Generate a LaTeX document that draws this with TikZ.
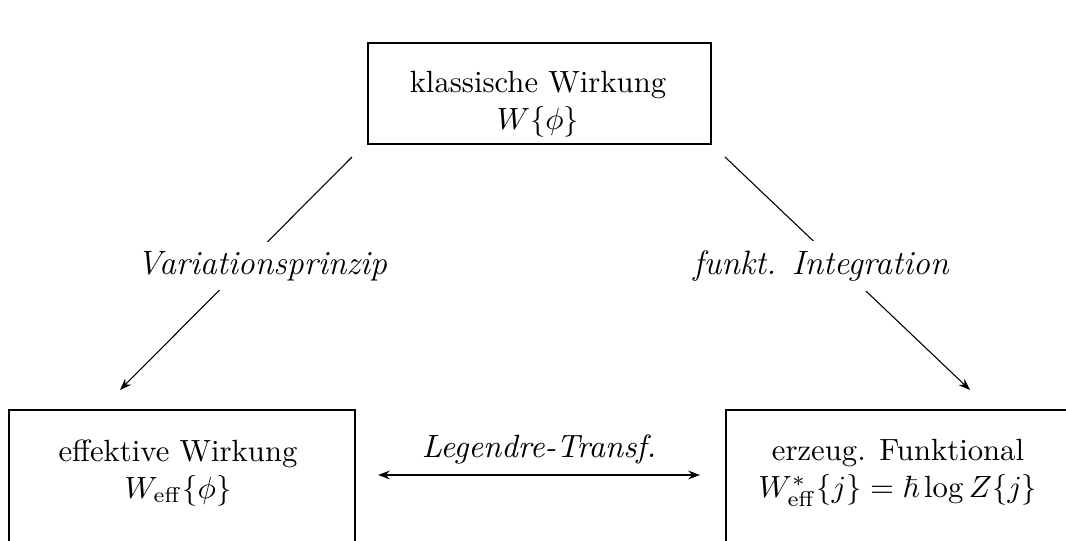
\documentclass[tikz,border=0pt]{standalone}
\usepackage{amsmath}
\usepackage{amssymb}
\usetikzlibrary{arrows.meta}
\newcommand{\pxl}{0.3257pt}

\begin{document}
\begin{tikzpicture}[x=\pxl,y=-\pxl]
\tikzstyle{rahmen}=[draw,rectangle,line width=0.65pt,anchor=north west,inner sep=0pt]
\tikzstyle{inhalt}=[align=center,font=\fontsize{10}{12}\selectfont]
\tikzstyle{etikett}=[fill=white,font=\fontsize{11}{13}\selectfont\itshape,inner sep=3pt]
\tikzstyle{pfeil}=[line width=0.35pt,-{Stealth[length=3.8pt,width=2.8pt]}]
\useasboundingbox (0,0) rectangle (1066,541);
\clip (0,0) rectangle (1066,541);
% Kaesten
\node [rahmen,minimum width=343*\pxl,minimum height=101*\pxl] (klass) at (367,42) {};
\node [rahmen,minimum width=346*\pxl,minimum height=170*\pxl] (eff) at (8,409) {};
\node [rahmen,minimum width=346*\pxl,minimum height=170*\pxl] (erz) at (725,409) {};
\node [inhalt] (klasstext) at (538,104) {klassische Wirkung\\$W\{\phi\}$};
\node [inhalt] (efftext) at (178,473) {effektive Wirkung\\$W_{\mathrm{eff}}\{\phi\}$};
\node [inhalt] (erztext) at (898,473) {erzeug. Funktional\\$W^*_{\mathrm{eff}}\{j\}=\hbar\log Z\{j\}$};
% Pfeile
\coordinate (vonL) at (352,157);
\coordinate (nachL) at (120,390);
\coordinate (vonR) at (725,157);
\coordinate (nachR) at (970,390);
\coordinate (legL) at (378,475);
\coordinate (legR) at (700,475);
\path (vonL) edge[pfeil] (nachL);
\path (vonR) edge[pfeil] (nachR);
\node [etikett] (var) at (262,266) {Variationsprinzip};
\node [etikett] (int) at (821,266) {funkt. Integration};
\path (legL) edge[line width=0.65pt,{Stealth[length=3.8pt,width=2.8pt]}-{Stealth[length=3.8pt,width=2.8pt]}]
    node [above=0pt,font=\fontsize{10.5}{12}\selectfont\itshape] (leg) {Legendre-Transf.} (legR);
\end{tikzpicture}
\end{document}
